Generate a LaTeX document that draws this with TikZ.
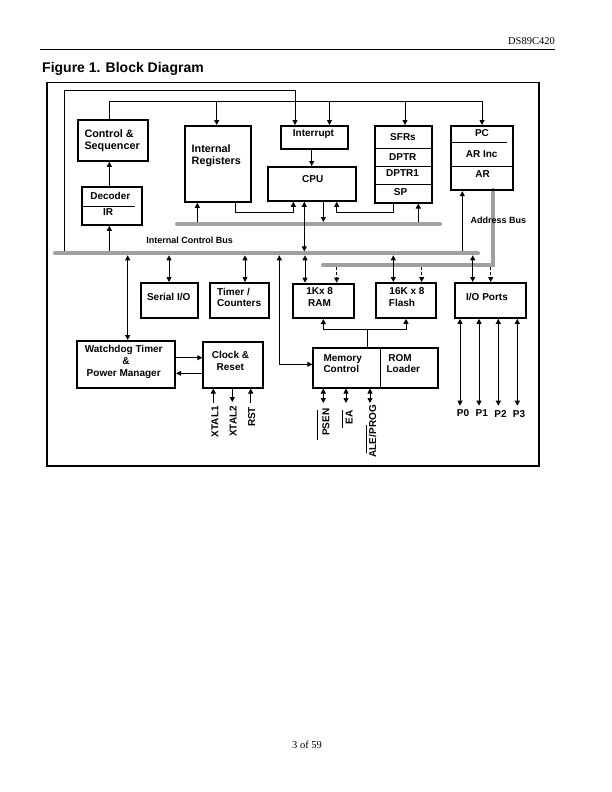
\documentclass[tikz,border=0pt]{standalone}
\usepackage{fontspec}
\setmainfont{Liberation Sans}
\newfontfamily\hdserif{Liberation Serif}
\usetikzlibrary{arrows.meta}
\definecolor{busgray}{RGB}{160,160,160}
\begin{document}
\begin{tikzpicture}[x=1pt,y=-1pt,
  blk/.style={draw, line width=1.8pt, anchor=north west, inner sep=0pt},
  lbl/.style={font=\fontsize{10}{12}\selectfont\bfseries, inner sep=0pt, anchor=base},
  lbll/.style={lbl, anchor=base west},
  biglbll/.style={lbll, font=\fontsize{10.8}{13}\selectfont\bfseries},
  vlbl/.style={lbl, rotate=90, anchor=base east},
  buslbl/.style={font=\fontsize{9}{11}\selectfont\bfseries, inner sep=0pt, anchor=base},
  pagetxt/.style={font=\hdserif\fontsize{10.5}{12}\selectfont, inner sep=0pt},
  wire/.style={line width=0.9pt},
  warr/.style={wire, -{Triangle[length=5pt,width=5pt]}},
  wdarr/.style={wire, {Triangle[length=5pt,width=5pt]}-{Triangle[length=5pt,width=5pt]}},
  dasharr/.style={warr, dash pattern=on 3pt off 2pt},
  divider/.style={line width=0.8pt},
  busline/.style={line width=4pt, busgray, line cap=round}
]
\fill[white] (0,0) rectangle (612,792);
\useasboundingbox (0,0) rectangle (612,792);

% header and footer
\node[pagetxt, anchor=base east] (hdr) at (555,45) {DS89C420};
\draw[line width=0.8pt] (40,49.5) -- (555,49.5);
\node[font=\fontsize{14}{16}\selectfont\bfseries, inner sep=0pt, anchor=base west] (fig) at (42,73) {Figure 1. Block Diagram};
\node[pagetxt, anchor=base] (pg) at (307,748) {3 of 59};

% frame
\draw[line width=1.3pt] (47,82.5) rectangle (539,466);

% buses
\draw[busline] (55,253.3) -- (478,253.3);
\draw[busline] (177,224) -- (440,224);
\draw[busline] (493.3,190) -- (493.3,265) -- (323,265);
\node[buslbl] (icb) at (189.7,243.3) {Internal Control Bus};
\node[buslbl] (adb) at (498.3,223.3) {Address Bus};

% blocks
\node[blk, minimum width=70, minimum height=41] (ctrl) at (77,119) {};
\node[biglbll] (ctrlA) at (84.3,137.3) {Control \&};
\node[biglbll] (ctrlB) at (84.3,149.3) {Sequencer};

\node[blk, minimum width=60, minimum height=38] (dec) at (81,186) {};
\node[lbl] (decA) at (110.3,199) {Decoder};
\node[lbl] (decB) at (108,215) {IR};
\draw[divider] (83,206.7) -- (135,206.7);

\node[blk, minimum width=66, minimum height=76] (ireg) at (184,125) {};
\node[biglbll] (iregA) at (191.5,152.7) {Internal};
\node[biglbll] (iregB) at (191.5,164.3) {Registers};

\node[blk, minimum width=67, minimum height=23.3] (intr) at (280,125) {};
\node[lbl] (intrA) at (313.5,136.5) {Interrupt};

\node[blk, minimum width=88, minimum height=34] (cpu) at (267,166) {};
\node[lbl] (cpuA) at (312.7,182.7) {CPU};

\node[blk, minimum width=57, minimum height=76.7] (sfr) at (374,125) {};
\draw[divider] (374,148.3) -- (431,148.3);
\draw[divider] (374,166) -- (431,166);
\draw[divider] (374,184) -- (431,184);
\node[lbl] (sfrA) at (403,140) {SFRs};
\node[lbl] (sfrB) at (402.8,160) {DPTR};
\node[lbl] (sfrC) at (402.5,176.7) {DPTR1};
\node[lbl] (sfrD) at (400.5,195) {SP};

\node[blk, minimum width=62, minimum height=64.3] (pc) at (450,125) {};
\draw[divider] (451.7,142.3) -- (506.7,142.3);
\draw[divider] (450,166.7) -- (512,166.7);
\node[lbl] (pcA) at (482,136.7) {PC};
\node[lbl] (pcB) at (481.7,157.3) {AR Inc};
\node[lbl] (pcC) at (482.7,177.3) {AR};

\node[blk, minimum width=57, minimum height=35] (ser) at (140,282) {};
\node[lbl] (serA) at (168.7,300) {Serial I/O};

\node[blk, minimum width=58.5, minimum height=35] (tmr) at (209.3,282) {};
\node[lbll] (tmrA) at (217,295) {Timer /};
\node[lbll] (tmrB) at (217,306) {Counters};

\node[blk, minimum width=61, minimum height=34.5] (ram) at (291.7,282.7) {};
\node[lbl] (ramA) at (319.7,294.3) {1Kx 8};
\node[lbl] (ramB) at (319.5,306) {RAM};

\node[blk, minimum width=60, minimum height=35] (fl) at (375,282) {};
\node[lbl] (flA) at (407,294.3) {16K x 8};
\node[lbl] (flB) at (402,306) {Flash};

\node[blk, minimum width=71, minimum height=35] (io) at (454,282) {};
\node[lbl] (ioA) at (487,300) {I/O Ports};

\node[blk, minimum width=98.3, minimum height=46.7] (wd) at (76,340) {};
\node[lbl] (wdA) at (123.7,352.7) {Watchdog Timer};
\node[lbl] (wdB) at (126,364.5) {\&};
\node[lbl] (wdC) at (123.7,376.7) {Power Manager};

\node[blk, minimum width=59.4, minimum height=46] (clk) at (202.3,340.7) {};
\node[lbl] (clkA) at (230.5,358.3) {Clock \&};
\node[lbl] (clkB) at (230.3,370) {Reset};

\node[blk, minimum width=125, minimum height=40] (mem) at (312.3,346.7) {};
\draw[divider] (380.7,346.7) -- (380.7,386.7);
\node[lbll] (memA) at (323.3,361.7) {Memory};
\node[lbll] (memB) at (323.3,372.7) {Control};
\node[lbl] (romA) at (400,361.7) {ROM};
\node[lbl] (romB) at (403.3,372.7) {Loader};

% pin labels
\node[vlbl] (x1) at (218.3,406) {XTAL1};
\node[vlbl] (x2) at (236.7,405.7) {XTAL2};
\node[vlbl] (rst) at (255,406.7) {RST};
\node[vlbl] (psen) at (329.3,408.3) {PSEN};
\node[vlbl] (ea) at (352.7,410) {EA};
\node[vlbl] (ale) at (376,405) {ALE/PROG};
\draw[divider] (317.7,410) -- (317.7,440);
\draw[divider] (342.3,410) -- (342.3,428);
\draw[divider] (366,425) -- (366,453);
\node[lbl] (p0) at (463,416) {P0};
\node[lbl] (p1) at (481.7,416) {P1};
\node[lbl] (p2) at (500.5,417) {P2};
\node[lbl] (p3) at (519,417) {P3};

% top control lines
\draw[warr] (64.3,251.3) -- (64.3,90) -| (295,0 |- intr.north);
\draw[warr] (109.3,0 |- ctrl.north) |- (482,101.7) -- (482,0 |- pc.north);
\draw[warr] (216.7,101.7) -- (216.7,0 |- ireg.north);
\draw[warr] (329.5,101.7) -- (329.5,0 |- intr.north);
\draw[warr] (405,101.7) -- (405,0 |- sfr.north);

% decoder / control
\draw[warr] (109.3,0 |- dec.north) -- (109.3,0 |- ctrl.south);
\draw[warr] (109.3,251.3) -- (109.3,0 |- dec.south);

% core connections
\draw[warr] (311.7,0 |- intr.south) -- (311.7,0 |- cpu.north);
\draw[warr] (197.3,222) -- (197.3,0 |- ireg.south);
\draw[warr] (235.7,0 |- ireg.south) |- (293.3,212.3) -- (293.3,0 |- cpu.south);
\draw[wdarr] (304.3,0 |- cpu.south) -- (304.3,251.3);
\draw[warr] (323.3,0 |- cpu.south) -- (323.3,222);
\draw[warr] (393.3,0 |- sfr.south) |- (336.7,212.3) -- (336.7,0 |- cpu.south);
\draw[warr] (418.3,222) -- (418.3,0 |- sfr.south);
\draw[warr] (462.3,251.3) -- (462.3,0 |- pc.south);

% lower bus connections
\draw[wdarr] (127.7,255.3) -- (127.7,0 |- wd.north);
\draw[wdarr] (169,255.3) -- (169,0 |- ser.north);
\draw[wdarr] (245,255.3) -- (245,0 |- tmr.north);
\draw[wdarr] (279.3,255.3) |- (mem.west |- 0,364.3);
\draw[wdarr] (305,255.3) -- (305,0 |- ram.north);
\draw[wdarr] (393.3,255.3) -- (393.3,0 |- fl.north);
\draw[wdarr] (472.7,255.3) -- (472.7,0 |- io.north);
\draw[dasharr] (336.7,267) -- (336.7,0 |- ram.north);
\draw[dasharr] (421.7,267) -- (421.7,0 |- fl.north);
\draw[dasharr] (490.7,267) -- (490.7,0 |- io.north);

% memory control to RAM / Flash
\draw[wire] (367.7,0 |- mem.north) -- (367.7,329.3);
\draw[warr] (367.7,329.3) -| (323.3,0 |- ram.south);
\draw[warr] (367.7,329.3) -| (406,0 |- fl.south);

% watchdog / clock
\draw[warr] (wd.east |- 0,357.7) -- (clk.west |- 0,357.7);
\draw[warr] (clk.west |- 0,373.3) -- (wd.east |- 0,373.3);

% clock pins
\draw[warr] (213.3,403) -- (213.3,0 |- clk.south);
\draw[warr] (232.3,0 |- clk.south) -- (232.3,402);
\draw[warr] (250.7,403) -- (250.7,0 |- clk.south);

% memory pins
\draw[wdarr] (323.3,0 |- mem.south) -- (323.3,403);
\draw[wdarr] (346,0 |- mem.south) -- (346,403);
\draw[wdarr] (370,0 |- mem.south) -- (370,403);

% port pins
\draw[wdarr] (460,0 |- io.south) -- (460,405.7);
\draw[wdarr] (479,0 |- io.south) -- (479,405.7);
\draw[wdarr] (498.3,0 |- io.south) -- (498.3,405.7);
\draw[wdarr] (517.3,0 |- io.south) -- (517.3,405.7);
\end{tikzpicture}
\end{document}
